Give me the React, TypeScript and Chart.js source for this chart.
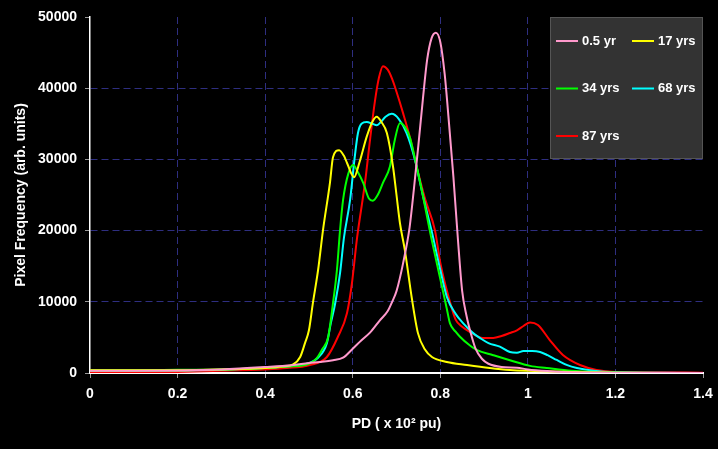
import React, { useEffect, useRef } from "react";
import { Chart, registerables } from "chart.js";

Chart.register(...registerables);

// ---- data ----
const seriesLabels = ["0.5 yr", "17 yrs", "34 yrs", "68 yrs", "87 yrs"];
const seriesColors = ["#ff99cc", "#ffff00", "#00ff00", "#00ffff", "#ff0000"];

const pinkX = [0, 0.1, 0.2, 0.3, 0.4, 0.46, 0.5, 0.525, 0.555, 0.578, 0.6, 0.62, 0.64, 0.662, 0.68, 0.69, 0.7, 0.715, 0.73, 0.74, 0.75, 0.76, 0.77, 0.78, 0.79, 0.8, 0.81, 0.82, 0.83, 0.84, 0.85, 0.86, 0.87, 0.88, 0.895, 0.91, 0.94, 0.975, 1.0, 1.05, 1.1, 1.2, 1.4];
const pinkY = [300, 300, 350, 500, 840, 1100, 1400, 1550, 1800, 2150, 3400, 4600, 5700, 7400, 8700, 10000, 11500, 15400, 20500, 26000, 32000, 38300, 44000, 47000, 47800, 46500, 42000, 35000, 27500, 19000, 11500, 8000, 5500, 3500, 2000, 1300, 850, 750, 500, 250, 100, 50, 0];

const yellowX = [0, 0.1, 0.2, 0.3, 0.4, 0.44, 0.464, 0.48, 0.491, 0.5, 0.509, 0.521, 0.532, 0.548, 0.555, 0.569, 0.58, 0.587, 0.603, 0.615, 0.632, 0.645, 0.655, 0.665, 0.678, 0.692, 0.7, 0.708, 0.719, 0.735, 0.749, 0.765, 0.781, 0.815, 0.861, 0.913, 0.959, 1.0, 1.1, 1.2, 1.4];
const yellowY = [400, 400, 400, 500, 700, 900, 1200, 2250, 4200, 6000, 9800, 14500, 20000, 26700, 30300, 31300, 30500, 29500, 27500, 29500, 33200, 35300, 36000, 35300, 33700, 29000, 25000, 21000, 17300, 10500, 5600, 3300, 2250, 1540, 1120, 700, 420, 300, 150, 50, 0];

const greenX = [0, 0.1, 0.2, 0.3, 0.4, 0.45, 0.5, 0.518, 0.53, 0.544, 0.555, 0.564, 0.571, 0.578, 0.59, 0.601, 0.612, 0.624, 0.637, 0.646, 0.657, 0.669, 0.685, 0.696, 0.708, 0.72, 0.731, 0.746, 0.76, 0.776, 0.79, 0.804, 0.815, 0.822, 0.835, 0.845, 0.865, 0.884, 0.921, 0.959, 1.005, 1.043, 1.1, 1.2, 1.4];
const greenY = [400, 400, 450, 500, 700, 900, 1300, 2100, 3300, 5060, 9800, 14500, 20000, 24300, 28000, 29200, 28200, 26700, 24500, 24200, 25000, 26700, 29000, 32700, 35100, 34500, 33000, 29000, 25000, 20000, 16000, 12100, 9000, 7000, 5800, 5100, 4000, 3200, 2500, 1800, 1000, 700, 300, 80, 0];

const cyanX = [0, 0.1, 0.2, 0.3, 0.4, 0.45, 0.5, 0.52, 0.541, 0.55, 0.56, 0.571, 0.58, 0.594, 0.604, 0.612, 0.62, 0.632, 0.645, 0.655, 0.662, 0.675, 0.689, 0.705, 0.723, 0.742, 0.76, 0.78, 0.8, 0.815, 0.835, 0.852, 0.875, 0.891, 0.91, 0.936, 0.959, 0.975, 0.99, 1.01, 1.028, 1.045, 1.066, 1.09, 1.112, 1.15, 1.2, 1.4];
const cyanY = [300, 300, 350, 450, 700, 900, 1400, 2100, 4200, 7000, 9800, 14000, 19000, 24300, 30000, 33700, 35000, 35250, 35000, 34800, 35100, 36000, 36400, 35700, 33700, 30000, 25000, 20000, 14500, 10700, 8300, 7000, 5600, 4900, 4200, 3700, 2950, 2850, 3090, 3100, 2950, 2500, 1830, 1100, 700, 300, 100, 0];

const redX = [0, 0.1, 0.2, 0.3, 0.4, 0.45, 0.5, 0.541, 0.566, 0.587, 0.598, 0.61, 0.628, 0.64, 0.651, 0.66, 0.669, 0.68, 0.69, 0.7, 0.715, 0.731, 0.746, 0.765, 0.788, 0.8, 0.822, 0.835, 0.85, 0.868, 0.897, 0.921, 0.94, 0.959, 0.975, 0.99, 1.005, 1.023, 1.05, 1.08, 1.119, 1.157, 1.2, 1.4];
const redY = [100, 100, 150, 300, 500, 700, 1100, 2250, 5060, 8430, 12500, 19000, 26700, 33000, 38300, 41500, 43100, 42600, 41300, 39500, 36500, 33000, 29000, 24500, 20000, 15500, 10000, 7500, 6500, 5760, 4920, 4920, 5200, 5620, 6000, 6600, 7100, 6740, 4630, 2530, 1120, 420, 150, 50];

const seriesX = [pinkX, yellowX, greenX, cyanX, redX];
const seriesY = [pinkY, yellowY, greenY, cyanY, redY];

const xTitle = "PD ( x 10\u00B2 pu)";
const yTitle = "Pixel Frequency (arb. units)";

const FONT = "'Liberation Sans', Arial, sans-serif";
const GRID = "#2e2e80";

const bgPlugin = {
  id: "bg",
  beforeDraw(chart: any) {
    const { ctx, width, height } = chart;
    ctx.save();
    ctx.fillStyle = "#000000";
    ctx.fillRect(0, 0, width, height);
    ctx.restore();
  },
};

const legendPlugin = {
  id: "boxLegend",
  afterDraw(chart: any) {
    const { ctx, chartArea } = chart;
    const right = chartArea.right;
    const top = chartArea.top;
    const boxW = 153;
    const boxH = 142;
    const left = right - boxW;
    ctx.save();
    ctx.fillStyle = "#333333";
    ctx.fillRect(left, top, boxW, boxH);
    ctx.strokeStyle = "#555555";
    ctx.lineWidth = 1;
    ctx.strokeRect(left + 0.5, top + 0.5, boxW - 1, boxH - 1);
    ctx.font = `bold 13px ${FONT}`;
    ctx.textBaseline = "middle";
    ctx.textAlign = "left";
    chart.data.datasets.forEach((ds: any, i: number) => {
      const col = i % 2;
      const row = Math.floor(i / 2);
      const x0 = left + 6 + col * 76;
      const y0 = top + 24 + row * 47.5;
      ctx.strokeStyle = ds.borderColor;
      ctx.lineWidth = 2;
      ctx.beginPath();
      ctx.moveTo(x0, y0);
      ctx.lineTo(x0 + 22, y0);
      ctx.stroke();
      ctx.fillStyle = "#ffffff";
      ctx.fillText(ds.label, x0 + 26, y0);
    });
    ctx.restore();
  },
};

export default function App() {
  const ref = useRef<HTMLCanvasElement | null>(null);
  useEffect(() => {
    document.body.style.margin = "0";
    const canvas = ref.current!;
    const datasets = seriesLabels.map((label, i) => ({
      label,
      data: seriesX[i].map((x, j) => ({ x, y: seriesY[i][j] })),
      borderColor: seriesColors[i],
      backgroundColor: seriesColors[i],
      borderWidth: 2,
      pointRadius: 0,
      fill: false,
      cubicInterpolationMode: "monotone" as const,
    }));
    const chart = new Chart(canvas, {
      type: "line",
      data: { datasets },
      plugins: [bgPlugin, legendPlugin],
      options: {
        animation: false,
        responsive: false,
        devicePixelRatio: 1,
        layout: { padding: { top: 17, right: 15, left: 0, bottom: 0 } },
        plugins: { legend: { display: false }, tooltip: { enabled: false } },
        scales: {
          x: {
            type: "linear",
            min: 0,
            max: 1.4,
            ticks: {
              stepSize: 0.2,
              color: "#ffffff",
              font: { family: FONT, size: 14, weight: "bold" },
              padding: 8,
              maxRotation: 0,
              callback: (v: any) => String(Number(Number(v).toFixed(1))),
            },
            grid: {
              color: (c: any) => {
                const n = c.scale ? c.scale.ticks.length - 1 : 7;
                return c.index === 0 || c.index === n ? "rgba(0,0,0,0)" : GRID;
              },
              lineWidth: 1,
              tickColor: "#999999",
              tickLength: 5,
            },
            border: { color: "#ffffff", width: 2, dash: [7, 4] },
            title: {
              display: true,
              text: xTitle,
              color: "#ffffff",
              font: { family: FONT, size: 14, weight: "bold" },
              padding: { top: 0, bottom: 16 },
            },
            afterFit: (s: any) => {
              s.height = 76;
              s.paddingRight = 0;
              s.paddingLeft = 0;
            },
          },
          y: {
            type: "linear",
            min: 0,
            max: 50000,
            ticks: {
              stepSize: 10000,
              color: "#ffffff",
              font: { family: FONT, size: 14, weight: "bold" },
              padding: 8,
              callback: (v: any) => String(v),
            },
            grid: {
              color: (c: any) => {
                const n = c.scale ? c.scale.ticks.length - 1 : 5;
                return c.index === 0 || c.index === n ? "rgba(0,0,0,0)" : GRID;
              },
              lineWidth: 1,
              tickColor: "#999999",
              tickLength: 5,
            },
            border: { color: "#ffffff", width: 1.5, dash: [7, 4] },
            title: {
              display: true,
              text: yTitle,
              color: "#ffffff",
              font: { family: FONT, size: 14, weight: "bold" },
              padding: { top: 13, bottom: 0 },
            },
            afterFit: (s: any) => {
              s.width = 90;
              s.paddingTop = 0;
              s.paddingBottom = 0;
            },
          },
        },
      },
    } as any);
    return () => chart.destroy();
  }, []);
  return (
    <div style={{ width: 718, height: 449, background: "#000" }}>
      <canvas ref={ref} width={718} height={449} style={{ display: "block" }} />
    </div>
  );
}
